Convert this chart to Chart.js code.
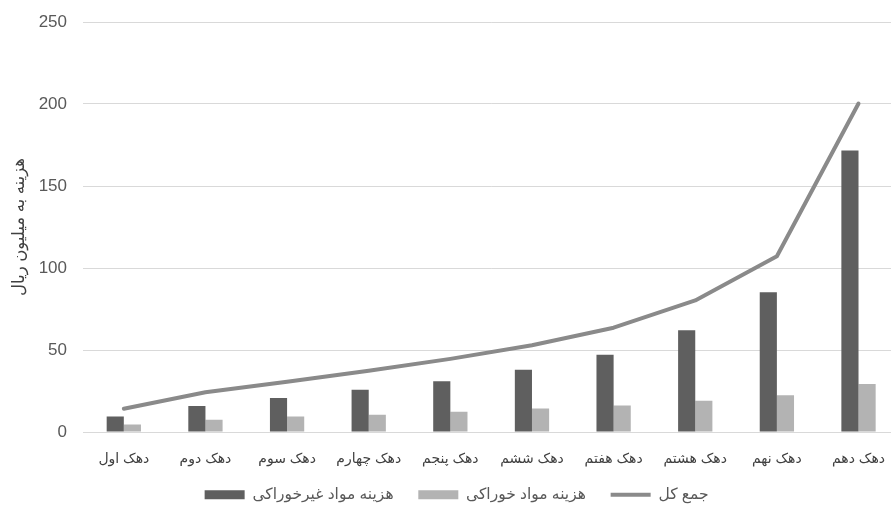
<!DOCTYPE html>
<html>
<head>
<meta charset="utf-8">
<script src="https://cdn.jsdelivr.net/npm/chart.js@4"></script>
<style>
  html, body { margin: 0; padding: 0; background: #ffffff; overflow: hidden; }
  #wrap { width: 904px; height: 512px; }
</style>
</head>
<body>
<div id="wrap"><canvas id="c" width="904" height="512"></canvas></div>
<script>
const categories = ['دهک اول','دهک دوم','دهک سوم','دهک چهارم','دهک پنجم','دهک ششم','دهک هفتم','دهک هشتم','دهک نهم','دهک دهم'];
const nonFoodCost = [9.5, 15.8, 20.7, 25.8, 30.9, 37.9, 47.1, 62.0, 85.2, 171.6];
const foodCost = [4.5, 7.5, 9.5, 10.5, 12.3, 14.3, 16.2, 19.1, 22.4, 29.3];
const totalCost = [14.2, 24.2, 30.7, 37.4, 44.6, 52.9, 63.6, 80.2, 107.2, 200.3];
const seriesNames = ['هزینه مواد غیرخوراکی', 'هزینه مواد خوراکی', 'جمع کل'];
const yTitle = 'هزینه به میلیون ریال';

const FONT = "'Liberation Sans', 'DejaVu Sans', sans-serif";

new Chart(document.getElementById('c'), {
  type: 'bar',
  data: {
    labels: categories,
    datasets: [
      { label: seriesNames[0], data: nonFoodCost, backgroundColor: '#5f5f5f', borderWidth: 0,
        categoryPercentage: 0.42, barPercentage: 1.0, pointStyle: 'rect' },
      { label: seriesNames[1], data: foodCost, backgroundColor: '#b3b3b3', borderWidth: 0,
        categoryPercentage: 0.42, barPercentage: 1.0, pointStyle: 'rect' },
      { type: 'line', label: seriesNames[2], data: totalCost, borderColor: '#8a8a8a', backgroundColor: '#8a8a8a',
        borderWidth: 4, pointRadius: 0, pointStyle: 'line', tension: 0, borderCapStyle: 'round', borderJoinStyle: 'round' }
    ]
  },
  options: {
    responsive: false,
    animation: false,
    devicePixelRatio: 1,
    layout: { padding: { top: 22, right: 0, bottom: 0, left: 17 } },
    plugins: {
      tooltip: { enabled: false },
      legend: {
        position: 'bottom',
        maxHeight: 42,
        labels: {
          usePointStyle: true,
          pointStyleWidth: 40,
          boxHeight: 9,
          padding: 17,
          color: '#595959',
          font: { family: FONT, size: 15.5 },
          generateLabels(chart) {
            const items = Chart.defaults.plugins.legend.labels.generateLabels(chart);
            items.forEach(it => { it.text = it.text + '\u2002'; });
            return items;
          }
        }
      }
    },
    scales: {
      x: {
        grid: { display: false, drawTicks: false },
        border: { display: true, color: '#d9d9d9', width: 1 },
        ticks: { color: '#404040', padding: 19, maxRotation: 0, autoSkip: false, font: { family: FONT, size: 14 } },
        afterFit(s) { s.height = 38; }
      },
      y: {
        min: 0, max: 250,
        ticks: { stepSize: 50, color: '#595959', padding: 16, font: { family: FONT, size: 17 } },
        grid: { color: '#d9d9d9', lineWidth: 1, drawTicks: false },
        border: { display: false },
        title: { display: true, text: yTitle, color: '#404040', padding: { top: -7, bottom: 0 }, font: { family: FONT, size: 16.5 } },
        afterFit(s) { s.width = 66; s.paddingTop = 0; s.paddingBottom = 0; }
      }
    }
  }
});
</script>
</body>
</html>
